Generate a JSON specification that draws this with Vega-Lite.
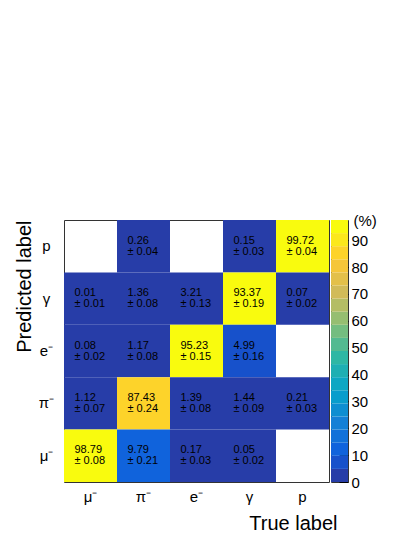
{
  "$schema": "https://vega.github.io/schema/vega-lite/v6.json",
  "padding": {"left": 13, "top": 212, "right": 20, "bottom": 0},
  "background": "white",
  "bounds": "flush",
  "spacing": 2,
  "config": {"font": "Liberation Sans", "view": {"stroke": "#333", "strokeWidth": 1}},
  "resolve": {"scale": {"color": "independent"}},
  "hconcat": [
    {
      "width": 265,
      "height": 262,
      "data": {
        "values": [
          {"true": "π⁻", "pred": "p", "val": 0.26, "err": 0.04},
          {"true": "γ", "pred": "p", "val": 0.15, "err": 0.03},
          {"true": "p", "pred": "p", "val": 99.72, "err": 0.04},
          {"true": "μ⁻", "pred": "γ", "val": 0.01, "err": 0.01},
          {"true": "π⁻", "pred": "γ", "val": 1.36, "err": 0.08},
          {"true": "e⁻", "pred": "γ", "val": 3.21, "err": 0.13},
          {"true": "γ", "pred": "γ", "val": 93.37, "err": 0.19},
          {"true": "p", "pred": "γ", "val": 0.07, "err": 0.02},
          {"true": "μ⁻", "pred": "e⁻", "val": 0.08, "err": 0.02},
          {"true": "π⁻", "pred": "e⁻", "val": 1.17, "err": 0.08},
          {"true": "e⁻", "pred": "e⁻", "val": 95.23, "err": 0.15},
          {"true": "γ", "pred": "e⁻", "val": 4.99, "err": 0.16},
          {"true": "μ⁻", "pred": "π⁻", "val": 1.12, "err": 0.07},
          {"true": "π⁻", "pred": "π⁻", "val": 87.43, "err": 0.24},
          {"true": "e⁻", "pred": "π⁻", "val": 1.39, "err": 0.08},
          {"true": "γ", "pred": "π⁻", "val": 1.44, "err": 0.09},
          {"true": "p", "pred": "π⁻", "val": 0.21, "err": 0.03},
          {"true": "μ⁻", "pred": "μ⁻", "val": 98.79, "err": 0.08},
          {"true": "π⁻", "pred": "μ⁻", "val": 9.79, "err": 0.21},
          {"true": "e⁻", "pred": "μ⁻", "val": 0.17, "err": 0.03},
          {"true": "γ", "pred": "μ⁻", "val": 0.05, "err": 0.02}
        ]
      },
      "encoding": {
        "x": {
          "field": "true", "type": "nominal",
          "scale": {"domain": ["μ⁻", "π⁻", "e⁻", "γ", "p"], "paddingInner": 0, "paddingOuter": 0},
          "axis": {
            "title": "True label", "titleFontSize": 20, "titleFontWeight": "normal", "titleColor": "black",
            "titleAnchor": "end", "titleAlign": "right", "titleX": 273, "titleY": 47, "titleBaseline": "alphabetic",
            "labelAngle": 0, "labelFontSize": 15, "labelColor": "black", "labelPadding": 14, "labelBaseline": "middle",
            "ticks": false, "tickSize": 0, "domain": false
          }
        },
        "y": {
          "field": "pred", "type": "nominal",
          "scale": {"domain": ["p", "γ", "e⁻", "π⁻", "μ⁻"], "paddingInner": 0, "paddingOuter": 0},
          "axis": {
            "title": "Predicted label", "titleFontSize": 20, "titleFontWeight": "normal", "titleColor": "black",
            "titleAngle": -90, "titleAlign": "right", "titleBaseline": "alphabetic", "titleX": -34, "titleY": 0,
            "labelFontSize": 15, "labelColor": "black", "labelAlign": "center", "labelPadding": 18, "labelBaseline": "middle",
            "ticks": false, "tickSize": 0, "domain": false
          }
        }
      },
      "layer": [
        {
          "mark": {"type": "rect"},
          "encoding": {
            "color": {
              "field": "val", "type": "quantitative",
              "scale": {
                "type": "quantize", "domain": [0, 97.5],
                "range": ["#273da8", "#1751cb", "#1063dc", "#1271d9", "#1480d6", "#0e8ed1", "#099dcc", "#0da7c3", "#1eafb3", "#2eb7a4",
                          "#53ba91", "#74bd80", "#96be71", "#b4bd65", "#d1bb59", "#e3c04a", "#f5c63a", "#fdd32a", "#fbe81c", "#f9fb0e"]
              },
              "legend": null
            }
          }
        },
        {
          "mark": {"type": "text", "align": "left", "baseline": "middle", "dx": 10.5, "dy": -5.5, "fontSize": 11, "color": "black"},
          "encoding": {
            "x": {"field": "true", "type": "nominal", "bandPosition": 0},
            "text": {"field": "val", "type": "quantitative", "format": ".2f"}
          }
        },
        {
          "transform": [{"calculate": "'± ' + format(datum.err, '.2f')", "as": "errlab"}],
          "mark": {"type": "text", "align": "left", "baseline": "middle", "dx": 10.5, "dy": 5.5, "fontSize": 11, "color": "black"},
          "encoding": {
            "x": {"field": "true", "type": "nominal", "bandPosition": 0},
            "text": {"field": "errlab", "type": "nominal"}
          }
        }
      ]
    },
    {
      "width": 17,
      "height": 262,
      "data": {
        "values": [
          {"i": 0, "lo": 0, "hi": 4.875},
          {"i": 1, "lo": 4.875, "hi": 9.75},
          {"i": 2, "lo": 9.75, "hi": 14.625},
          {"i": 3, "lo": 14.625, "hi": 19.5},
          {"i": 4, "lo": 19.5, "hi": 24.375},
          {"i": 5, "lo": 24.375, "hi": 29.25},
          {"i": 6, "lo": 29.25, "hi": 34.125},
          {"i": 7, "lo": 34.125, "hi": 39},
          {"i": 8, "lo": 39, "hi": 43.875},
          {"i": 9, "lo": 43.875, "hi": 48.75},
          {"i": 10, "lo": 48.75, "hi": 53.625},
          {"i": 11, "lo": 53.625, "hi": 58.5},
          {"i": 12, "lo": 58.5, "hi": 63.375},
          {"i": 13, "lo": 63.375, "hi": 68.25},
          {"i": 14, "lo": 68.25, "hi": 73.125},
          {"i": 15, "lo": 73.125, "hi": 78},
          {"i": 16, "lo": 78, "hi": 82.875},
          {"i": 17, "lo": 82.875, "hi": 87.75},
          {"i": 18, "lo": 87.75, "hi": 92.625},
          {"i": 19, "lo": 92.625, "hi": 97.5}
        ]
      },
      "mark": {"type": "rect"},
      "encoding": {
        "y": {
          "field": "lo", "type": "quantitative",
          "scale": {"domain": [0, 97.5], "nice": false, "zero": false},
          "axis": {
            "orient": "right", "values": [0, 10, 20, 30, 40, 50, 60, 70, 80, 90],
            "title": "(%)", "titleAngle": 0, "titleFontSize": 15, "titleFontWeight": "normal", "titleColor": "black",
            "titleX": 5, "titleY": 0, "titleAlign": "left", "titleBaseline": "middle",
            "labelFontSize": 15, "labelColor": "black", "labelPadding": 12, "labelBaseline": "middle", "labelFlush": false,
            "tickSize": -9, "tickColor": "black", "tickWidth": 1, "domain": false, "grid": false, "labelOverlap": false
          }
        },
        "y2": {"field": "hi"},
        "color": {
          "field": "i", "type": "ordinal",
          "scale": {
            "domain": [0, 1, 2, 3, 4, 5, 6, 7, 8, 9, 10, 11, 12, 13, 14, 15, 16, 17, 18, 19],
            "range": ["#273da8", "#1751cb", "#1063dc", "#1271d9", "#1480d6", "#0e8ed1", "#099dcc", "#0da7c3", "#1eafb3", "#2eb7a4",
                      "#53ba91", "#74bd80", "#96be71", "#b4bd65", "#d1bb59", "#e3c04a", "#f5c63a", "#fdd32a", "#fbe81c", "#f9fb0e"]
          },
          "legend": null
        }
      }
    }
  ]
}
